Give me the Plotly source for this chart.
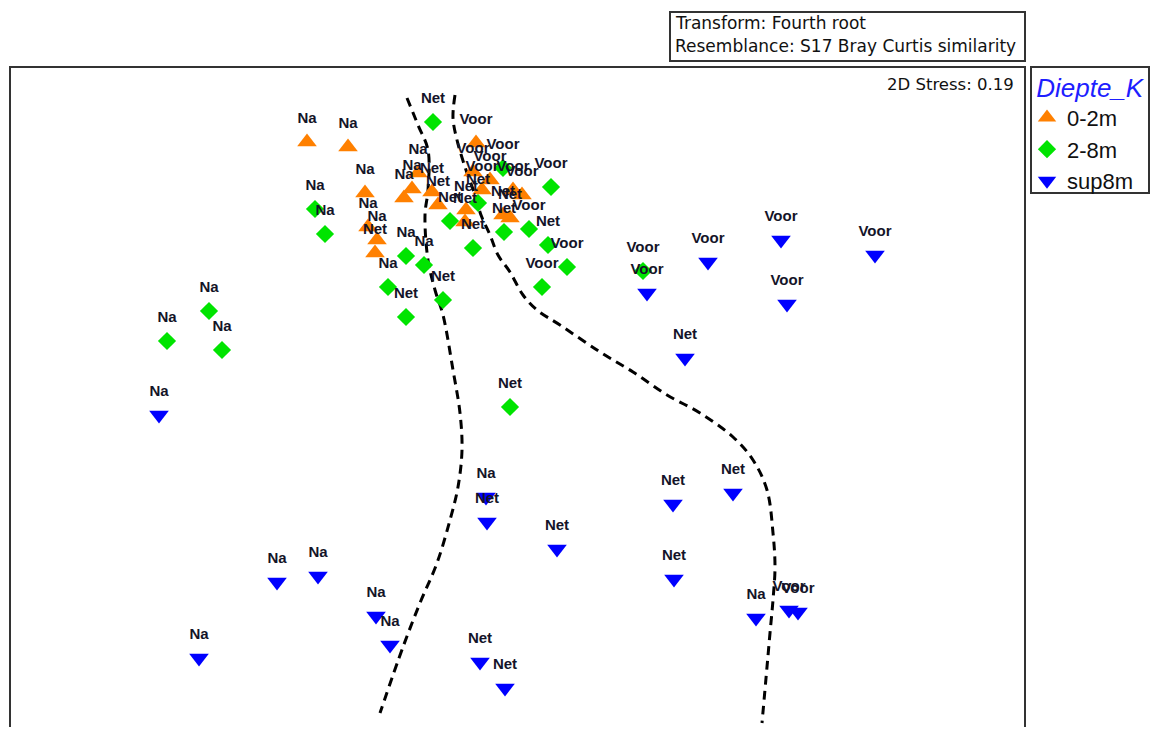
import plotly.graph_objects as go

# ---------------- data (nMDS ordination; y grows downward) -------------
groups = ["0-2m", "2-8m", "sup8m"]

lab_0_2 = ["Na", "Na", "Voor", "Na", "Na", "Na", "Net", "Na", "Na", "Na", "Net", "Net",
           "Voor", "Voor", "Voor", "Voor", "Net", "Net", "Net", "Net", "Voor"]
x_0_2 = [307, 348, 476, 365, 368, 377, 375, 418, 412, 404, 432, 438,
         473, 490, 513, 522, 466, 465, 503, 510, 482]
y_0_2 = [142, 147, 143, 193, 227, 240, 253, 173, 189, 198, 192, 205,
         172, 180, 190, 195, 210, 222, 215, 218, 190]

lab_2_8 = ["Net", "Voor", "Na", "Na", "Na", "Na", "Na", "Net", "Voor", "Voor", "Voor", "Net",
           "Voor", "Net", "Net", "Net", "Net", "Net", "Na", "Na", "Na", "Voor", "Net"]
x_2_8 = [433, 551, 315, 325, 209, 167, 222, 510, 643, 567, 542, 548,
         529, 504, 473, 450, 443, 406, 406, 424, 388, 503, 478]
y_2_8 = [122, 187, 209, 234, 311, 341, 350, 407, 271, 267, 287, 245,
         229, 232, 248, 221, 300, 317, 256, 265, 287, 168, 203]

lab_sup8 = ["Voor", "Voor", "Voor", "Voor", "Voor", "Net", "Na", "Na", "Net", "Net", "Net", "Net",
            "Net", "Na", "Na", "Na", "Na", "Na", "Net", "Net", "Na", "Voor", "Voor"]
x_sup8 = [781, 875, 708, 787, 647, 685, 159, 486, 487, 557, 673, 733,
          674, 277, 318, 376, 390, 199, 480, 505, 756, 789, 798]
y_sup8 = [240, 255, 262, 304, 293, 358, 415, 497, 522, 549, 504, 493,
          579, 582, 576, 616, 645, 658, 662, 688, 618, 610, 612]

# cluster boundary curves (dashed)
curve1_x = [407, 418, 428, 428, 425, 428, 435, 443, 453, 460, 462, 458, 450, 437, 420, 403, 380]
curve1_y = [98, 125, 150, 190, 215, 260, 290, 315, 370, 413, 450, 487, 520, 563, 603, 647, 713]
curve2_x = [455, 453, 457, 466, 475, 481, 490, 498, 510, 523, 537, 560, 600, 633, 667, 700,
            733, 753, 767, 773, 775, 773, 770, 767, 762]
curve2_y = [95, 118, 140, 170, 195, 215, 235, 255, 272, 295, 310, 325, 352, 372, 395, 413,
            437, 460, 490, 533, 567, 600, 633, 667, 723]

header_lines = ["Transform: Fourth root", "Resemblance: S17 Bray Curtis similarity"]
stress_text = "2D Stress: 0.19"
legend_title = "Diepte_K"

# ---------------- styles -------------
colors = {"0-2m": "rgb(255,128,0)", "2-8m": "rgb(0,228,0)", "sup8m": "rgb(0,0,255)"}
symbols = {"0-2m": "triangle-up", "2-8m": "diamond", "sup8m": "triangle-down"}
sizes = {"0-2m": 17, "2-8m": 14, "sup8m": 17}
LABEL_OFFSET = 23

# The page has an 8px body margin; layout below is expressed in page pixels.
OFF = 8
W, H = 1159 - 2 * OFF, 735 - 2 * OFF
PLOT_X0, PLOT_X1, PLOT_Y0, PLOT_Y1 = 10, 1025, 67, 735 - OFF   # page pixels of plot area

def px_x(p):
    return (p - PLOT_X0) / (PLOT_X1 - PLOT_X0)

def px_y(p):
    return (PLOT_Y1 - p) / (PLOT_Y1 - PLOT_Y0)

fig = go.Figure()

for cx, cy in [(curve1_x, curve1_y), (curve2_x, curve2_y)]:
    fig.add_trace(go.Scatter(x=cx, y=cy, mode="lines", showlegend=False, hoverinfo="skip",
                             line=dict(color="black", width=3, dash="9px,6px", shape="spline")))

data = {"0-2m": (x_0_2, y_0_2, lab_0_2),
        "2-8m": (x_2_8, y_2_8, lab_2_8),
        "sup8m": (x_sup8, y_sup8, lab_sup8)}

for g in groups:
    xs, ys, labs = data[g]
    fig.add_trace(go.Scatter(x=xs, y=ys, mode="markers", name=g,
                             marker=dict(symbol=symbols[g], size=sizes[g], color=colors[g],
                                         line=dict(width=0))))

for g in groups:
    xs, ys, labs = data[g]
    fig.add_trace(go.Scatter(x=xs, y=[v - LABEL_OFFSET for v in ys], mode="text", text=labs,
                             textposition="middle center", showlegend=False, hoverinfo="skip",
                             textfont=dict(family="Liberation Sans", size=15, color="#141428",
                                           weight="bold")))

fig.update_xaxes(range=[PLOT_X0, PLOT_X1], visible=False, showgrid=False, zeroline=False)
fig.update_yaxes(range=[PLOT_Y1, PLOT_Y0], visible=False, showgrid=False, zeroline=False)

shapes = [
    # plot frame (bottom edge lies outside the view)
    dict(type="rect", xref="paper", yref="paper", x0=px_x(10), x1=px_x(1025), y0=-0.05, y1=px_y(67),
         line=dict(color="#333333", width=2)),
    # header box
    dict(type="rect", xref="paper", yref="paper", x0=px_x(670), x1=px_x(1025), y0=px_y(61), y1=px_y(12),
         line=dict(color="#333333", width=2)),
    # legend box
    dict(type="rect", xref="paper", yref="paper", x0=px_x(1031), x1=px_x(1149), y0=px_y(193), y1=px_y(67),
         line=dict(color="#333333", width=2)),
]

annotations = [
    dict(text=header_lines[0], xref="paper", yref="paper", x=px_x(673), y=px_y(23),
         xanchor="left", yanchor="middle", showarrow=False,
         font=dict(family="DejaVu Sans", size=17, color="#111111")),
    dict(text=header_lines[1], xref="paper", yref="paper", x=px_x(673), y=px_y(46),
         xanchor="left", yanchor="middle", showarrow=False,
         font=dict(family="DejaVu Sans", size=17, color="#111111")),
    dict(text=stress_text, xref="paper", yref="paper", x=px_x(1016), y=px_y(84),
         xanchor="right", yanchor="middle", showarrow=False,
         font=dict(family="DejaVu Sans", size=16.5, color="#111111")),
]

fig.update_layout(
    width=W, height=H,
    margin=dict(l=PLOT_X0 - OFF, r=W - (PLOT_X1 - OFF), t=PLOT_Y0 - OFF, b=0, pad=0),
    paper_bgcolor="white", plot_bgcolor="white",
    shapes=shapes, annotations=annotations,
    showlegend=True,
    legend=dict(x=px_x(1027), y=px_y(63), xanchor="left", yanchor="top",
                bgcolor="rgba(0,0,0,0)", borderwidth=0,
                title=dict(text="\u00a0" + legend_title,
                           font=dict(family="Liberation Sans", size=26, color="rgb(30,30,255)",
                                     style="italic")),
                font=dict(family="Liberation Sans", size=22, color="#111111"),
                itemsizing="trace", tracegroupgap=0),
)

fig.write_html("out.html")
